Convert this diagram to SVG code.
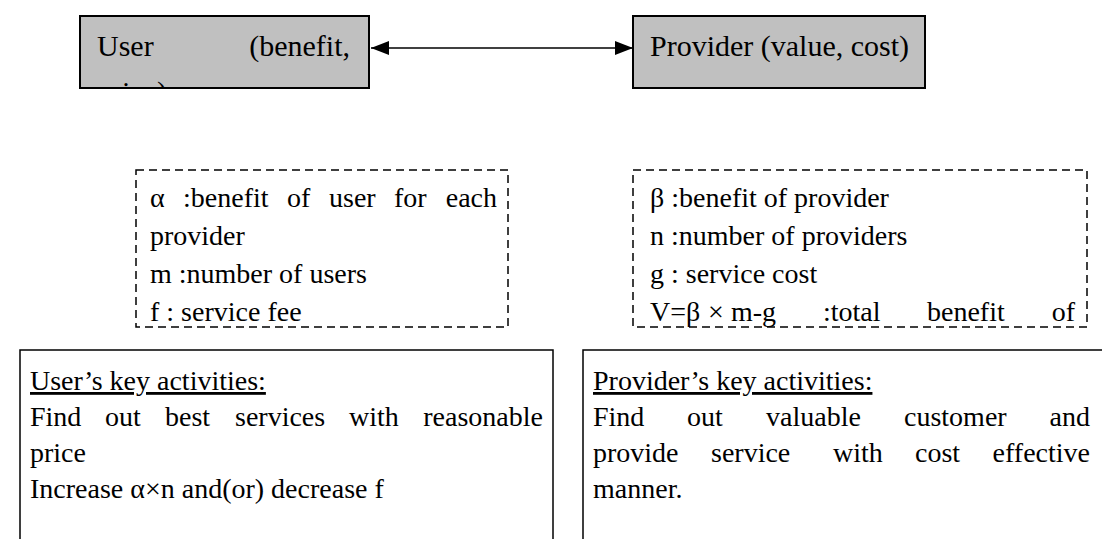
<svg xmlns="http://www.w3.org/2000/svg" width="1102" height="539" viewBox="0 0 1102 539">
<defs>
<style>
text{font-family:"Liberation Serif","Times New Roman",serif;font-size:28px;fill:#000}
.hd{font-size:30px}
.head{fill:#c0c0c0;stroke:#000;stroke-width:2}
.dash{fill:none;stroke:#000;stroke-width:1.5;stroke-dasharray:8 5}
.solid{fill:none;stroke:#000;stroke-width:1.5}
.u{text-decoration:underline}
.end{text-anchor:end}
</style>
<marker id="ah" viewBox="0 0 18 14" refX="18" refY="7" markerWidth="18" markerHeight="14" markerUnits="userSpaceOnUse" orient="auto-start-reverse">
<path d="M0,0 L18,7 L0,14 z" fill="#000"/>
</marker>
<clipPath id="clipUser"><rect x="81" y="17" width="287" height="70"/></clipPath>
</defs>
<g id="user">
<rect class="head" x="80" y="16" width="289" height="72"/>
<g clip-path="url(#clipUser)">
<text x="97" y="56" class="hd">User</text>
<text x="350" y="56" class="hd end">(benefit,</text>
<text x="97" y="102" class="hd">price)</text>
</g>
</g>
<g id="provider">
<rect class="head" x="633" y="16" width="292" height="72"/>
<text x="650" y="56" class="hd">Provider (value, cost)</text>
</g>
<g id="connectors">
<line x1="371" y1="48" x2="633" y2="48" stroke="#000" stroke-width="1.5" marker-start="url(#ah)" marker-end="url(#ah)"/>
</g>
<g id="user-params">
<rect class="dash" x="136" y="170" width="372" height="157"/>
<text y="207"><tspan x="150">α</tspan><tspan x="183">:benefit</tspan><tspan x="287">of</tspan><tspan x="329">user</tspan><tspan x="394">for</tspan></text>
<text x="497" y="207" class="end">each</text>
<text x="150" y="245">provider</text>
<text x="150" y="283">m :number of users</text>
<text x="150" y="321">f : service fee</text>
</g>
<g id="provider-params">
<rect class="dash" x="633" y="170" width="454" height="157"/>
<text x="650" y="207">β :benefit of provider</text>
<text x="650" y="245">n :number of providers</text>
<text x="650" y="283">g : service cost</text>
<text y="321"><tspan x="650">V=β</tspan><tspan x="708">×</tspan><tspan x="731">m-g</tspan><tspan x="823">:total</tspan><tspan x="927">benefit</tspan></text>
<text x="1075" y="321" class="end">of</text>
</g>
<g id="user-activities">
<rect class="solid" x="20" y="350" width="533" height="200"/>
<text x="30" y="390" class="u">User’s key activities:</text>
<text y="426"><tspan x="30">Find</tspan><tspan x="105">out</tspan><tspan x="165">best</tspan><tspan x="235">services</tspan><tspan x="349">with</tspan></text>
<text x="543" y="426" class="end">reasonable</text>
<text x="30" y="462">price</text>
<text x="30" y="498">Increase α×n and(or) decrease f</text>
</g>
<g id="provider-activities">
<rect class="solid" x="583" y="350" width="530" height="200"/>
<text x="593" y="390" class="u">Provider’s key activities:</text>
<text y="426"><tspan x="593">Find</tspan><tspan x="687">out</tspan><tspan x="766">valuable</tspan><tspan x="904">customer</tspan></text>
<text x="1090" y="426" class="end">and</text>
<text y="462"><tspan x="593">provide</tspan><tspan x="711">service</tspan><tspan x="833">with</tspan><tspan x="915">cost</tspan></text>
<text x="1090" y="462" class="end">effective</text>
<text x="593" y="498">manner.</text>
</g>
</svg>
